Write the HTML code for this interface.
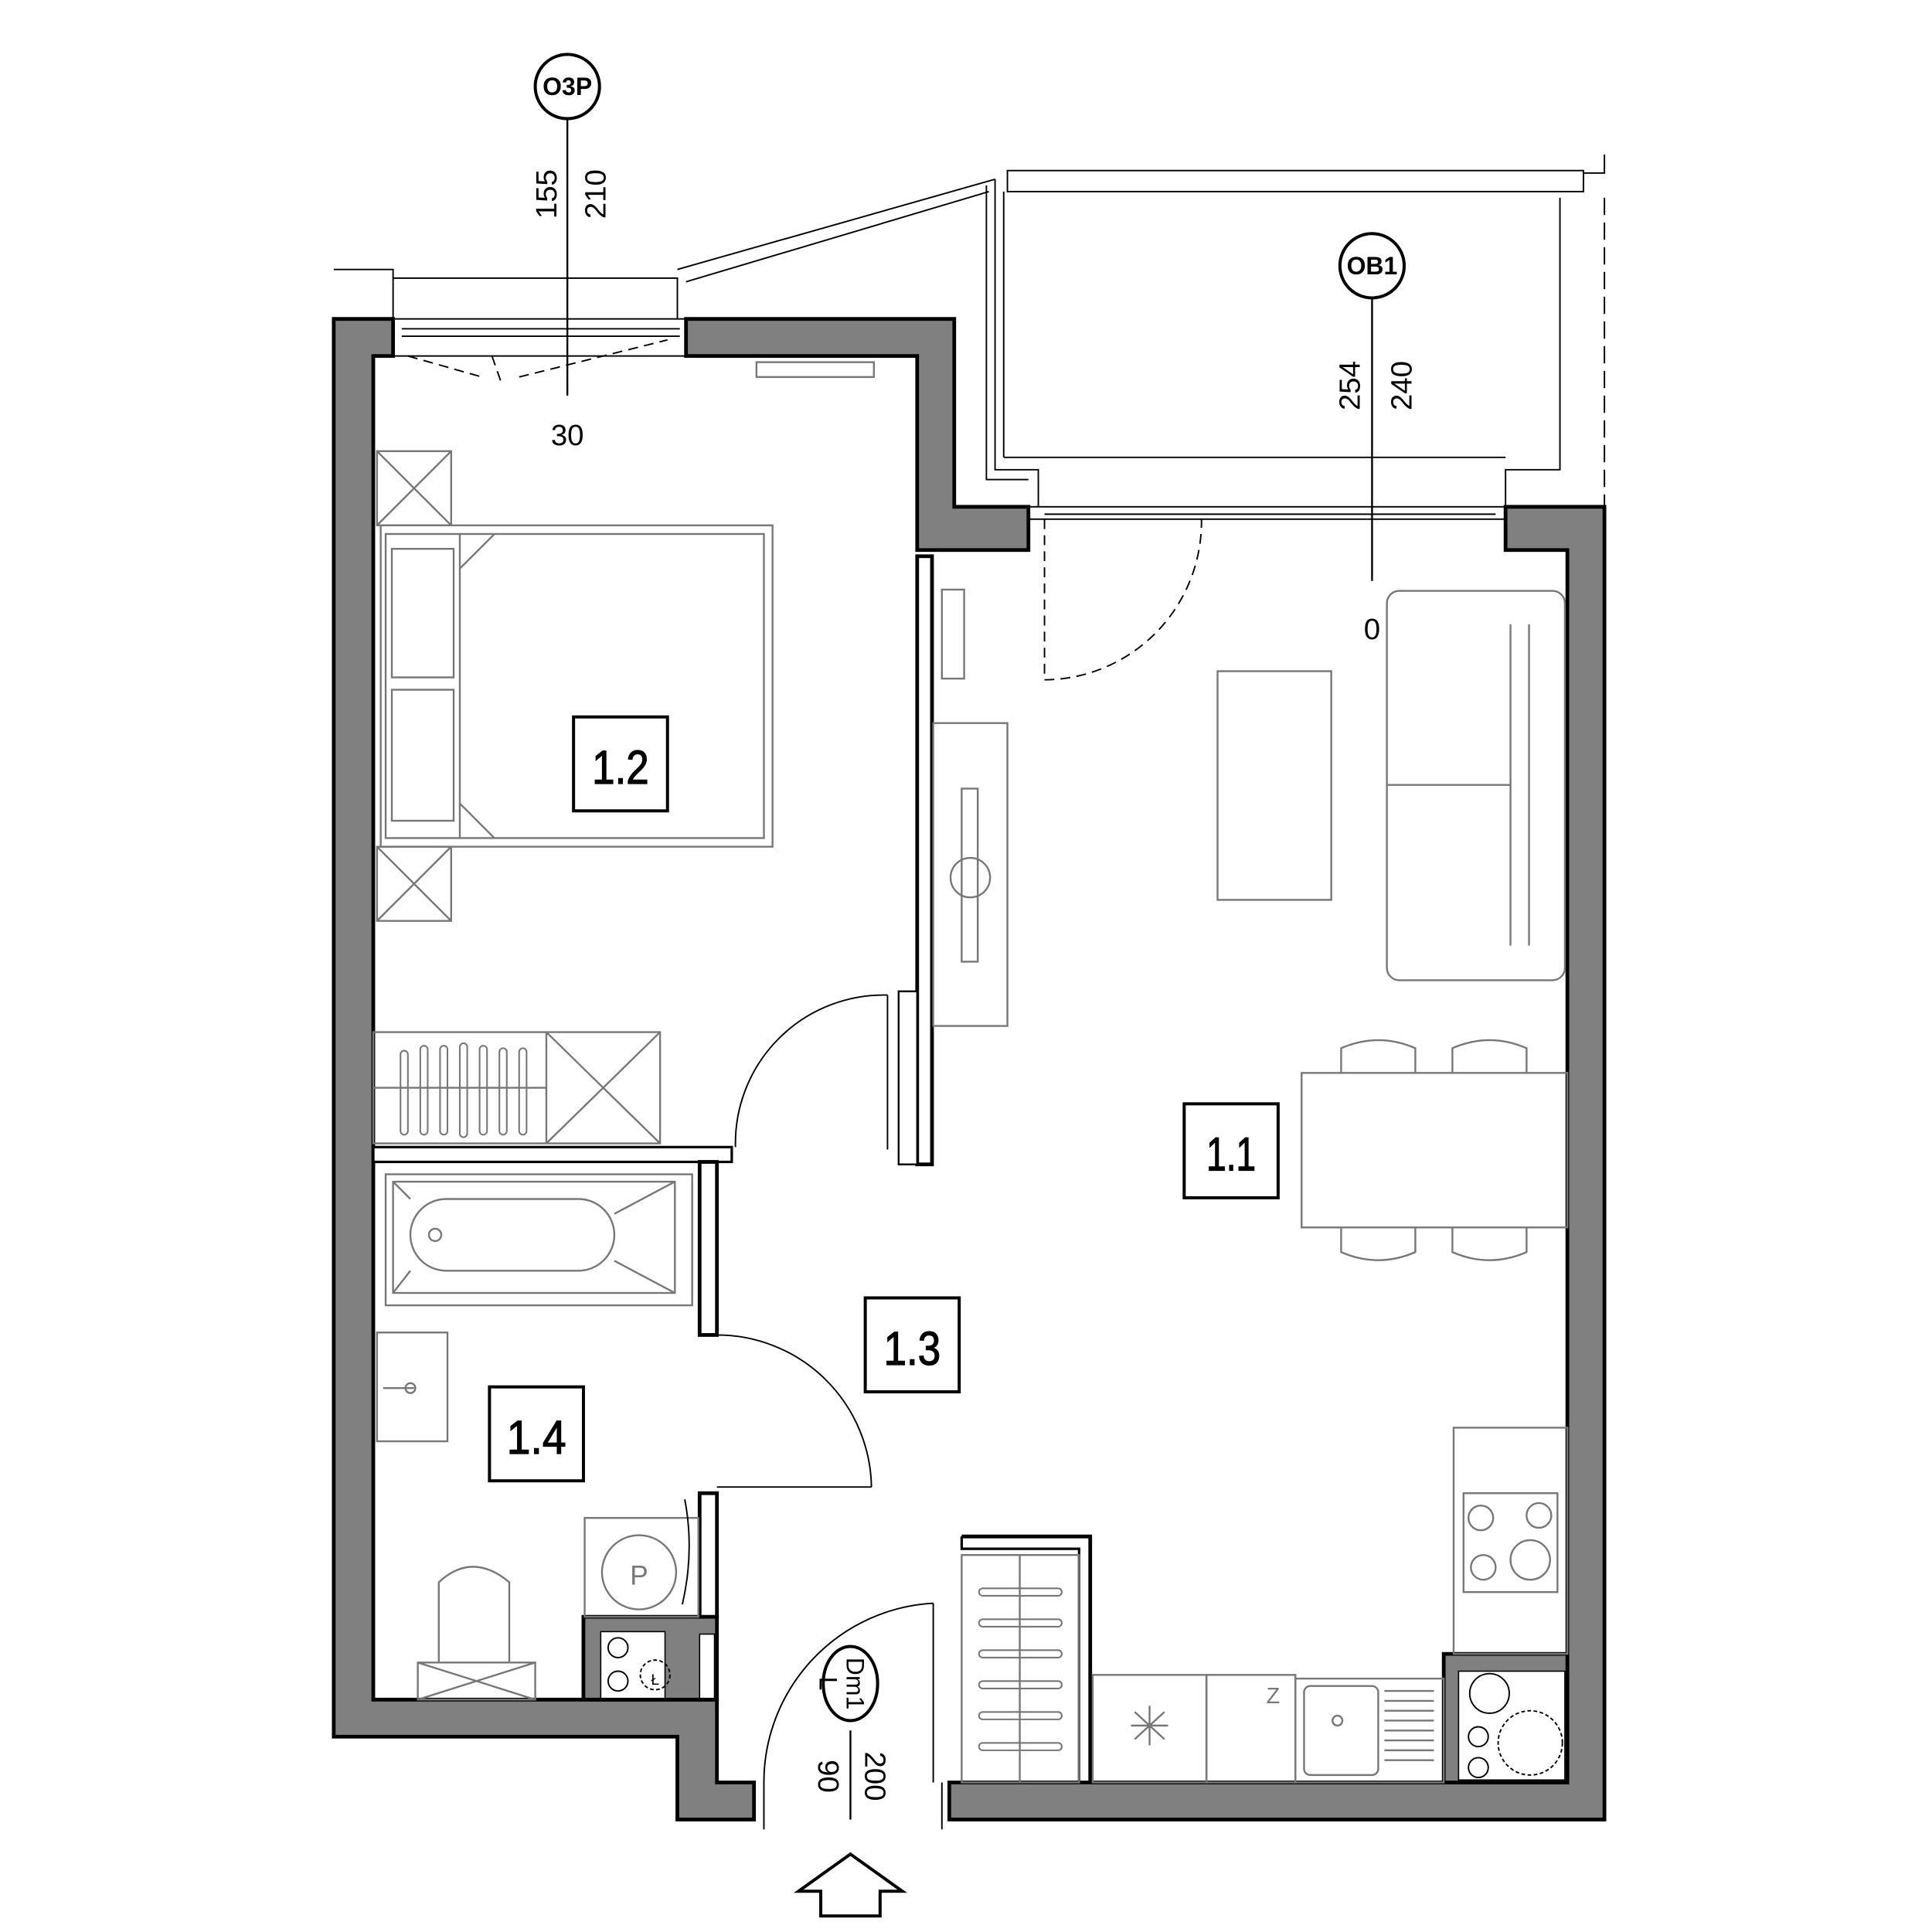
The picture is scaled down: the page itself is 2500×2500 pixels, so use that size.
<!DOCTYPE html>
<html><head><meta charset="utf-8"><style>html,body{margin:0;padding:0;background:#fff}svg{display:block}</style></head><body>
<svg width="2500" height="2500" viewBox="0 0 1563 1563" xmlns="http://www.w3.org/2000/svg" font-family="Liberation Sans Narrow, Liberation Sans, sans-serif">
<rect width="1563" height="1563" fill="#fff"/>
<g fill="#808080" stroke="#000" stroke-width="3">
<polygon points="270,258 318,258 318,288 302,288 302,1375 580,1375 580,1442 610,1442 610,1472 548,1472 548,1405 270,1405"/>
<polygon points="555,258 772,258 772,410 832,410 832,445 742,445 742,288 555,288"/>
<polygon points="1218,410 1298,410 1298,1472 768,1472 768,1442 1268,1442 1268,445 1218,445"/>
<polygon points="472,1308 580,1308 580,1375 472,1375"/>
<polygon points="1168,1338 1268,1338 1268,1442 1168,1442"/>
</g>
<g fill="#fff" stroke="#000" stroke-width="1">
<rect x="486" y="1320" width="52" height="54"/>
<rect x="566" y="1322" width="12" height="52"/>
<rect x="1180" y="1352" width="86" height="88"/>
</g>
<g fill="#fff" stroke="#000" stroke-width="3">
<rect x="742" y="450" width="12" height="492"/>
<rect x="727" y="802" width="15" height="140" stroke-width="1.5"/>
<rect x="302" y="928" width="290" height="12" stroke-width="2"/>
<rect x="566" y="940" width="14" height="140"/>
<rect x="566" y="1208" width="14" height="100"/>
<polyline points="778,1243 882,1243 882,1442" fill="none" stroke-width="3"/>
<polyline points="778,1243 778,1253 873,1253 873,1442" fill="none" stroke-width="2"/>
</g>
<g fill="none" stroke="#000" stroke-width="1.2">
<polyline points="270,218 318,218 318,258"/>
<polyline points="318,225 548,225 548,258"/>
<line x1="548" y1="218" x2="805" y2="145"/><line x1="555" y1="228" x2="800" y2="155"/>
<polyline points="805,145 805,380 840,380 840,410"/>
<polyline points="798,150 798,388 832,388"/>
<rect x="815" y="138" width="466" height="17"/>
<polyline points="1281,155 1281,140 1298,140 1298,125"/>
<line x1="812" y1="155" x2="812" y2="370"/>
<polyline points="812,370 1218,370"/>
<polyline points="1262,160 1262,380 1218,380 1218,410"/>
<line x1="1298" y1="160" x2="1298" y2="410" stroke-dasharray="14,6"/>
<rect x="318" y="258" width="237" height="30"/>
<line x1="325" y1="266" x2="550" y2="266"/><line x1="325" y1="272" x2="550" y2="272"/>
<rect x="832" y="410" width="386" height="10"/>
<line x1="845" y1="416" x2="1210" y2="416"/>
<path d="M845,420 V550 A128,128 0 0 0 972,420" stroke-dasharray="8,5"/>
<path d="M330,288 L390,305 M398,288 L405,308 M420,305 L540,275" stroke-dasharray="8,5"/>
<path d="M595,928 A120,120 0 0 1 718,805"/><line x1="718" y1="805" x2="718" y2="930"/>
<path d="M580,1080 A125,125 0 0 1 705,1203"/><line x1="580" y1="1203" x2="705" y2="1203"/>
<path d="M618,1442 A145,145 0 0 1 755,1297"/><line x1="755" y1="1297" x2="755" y2="1442"/>
<line x1="618" y1="1442" x2="618" y2="1480"/><line x1="762" y1="1442" x2="762" y2="1480"/>
</g>
<g fill="none" stroke="#777" stroke-width="1.5">
<rect x="612" y="293" width="95" height="12"/>
<rect x="305" y="365" width="60" height="60"/><path d="M305,365 L365,425 M365,365 L305,425"/>
<rect x="305" y="685" width="60" height="60"/><path d="M305,685 L365,745 M365,685 L305,745"/>
<rect x="308" y="425" width="317" height="260"/><rect x="312" y="432" width="306" height="246"/>
<line x1="372" y1="432" x2="372" y2="678"/><path d="M372,460 L400,432 M372,650 L400,678"/>
<rect x="317" y="444" width="50" height="104"/><rect x="317" y="558" width="50" height="106"/>
<rect x="302" y="835" width="232" height="90"/><line x1="442" y1="835" x2="442" y2="925"/>
<path d="M442,835 L534,925 M534,835 L442,925"/><line x1="302" y1="880" x2="442" y2="880"/>
<g stroke-width="1.3">
<rect x="324" y="850" width="6" height="68" rx="3"/><rect x="340" y="846" width="6" height="72" rx="3"/><rect x="356" y="846" width="6" height="72" rx="3"/><rect x="372" y="844" width="6" height="76" rx="3"/><rect x="388" y="846" width="6" height="72" rx="3"/><rect x="404" y="848" width="6" height="70" rx="3"/><rect x="420" y="848" width="6" height="70" rx="3"/>
</g>
<rect x="312" y="950" width="248" height="106"/><rect x="318" y="956" width="228" height="90"/>
<rect x="332" y="970" width="165" height="58" rx="29"/>
<path d="M318,956 L332,970 M546,956 L497,982 M318,1046 L332,1028 M546,1046 L497,1020"/>
<circle cx="352" cy="999" r="5"/>
<rect x="305" y="1078" width="57" height="88"/><line x1="310" y1="1123" x2="335" y2="1123"/><circle cx="332" cy="1123" r="4"/>
<rect x="473" y="1228" width="92" height="80"/><circle cx="517" cy="1272" r="30"/>
<rect x="338" y="1345" width="95" height="30"/><path d="M338,1345 L433,1375 M433,1345 L338,1375"/>
<path d="M355,1345 V1280 Q382,1255 412,1280 V1345"/>
<rect x="755" y="585" width="60" height="245"/><rect x="778" y="638" width="13" height="140"/><circle cx="785" cy="710" r="16"/>
<rect x="762" y="477" width="18" height="72"/>
<rect x="985" y="543" width="92" height="185"/>
<rect x="1122" y="478" width="144" height="315" rx="10"/><line x1="1237" y1="505" x2="1237" y2="765"/><line x1="1122" y1="635" x2="1222" y2="635"/><line x1="1222" y1="505" x2="1222" y2="765"/>
<rect x="1053" y="868" width="215" height="125"/>
<path d="M1085,868 V848 Q1115,835 1145,848 V868 M1175,868 V848 Q1205,835 1235,848 V868"/>
<path d="M1085,993 V1013 Q1115,1026 1145,1013 V993 M1175,993 V1013 Q1205,1026 1235,1013 V993"/>
<rect x="1176" y="1155" width="92" height="183"/><rect x="1184" y="1208" width="76" height="80"/>
<circle cx="1198" cy="1228" r="10"/><circle cx="1245" cy="1226" r="10"/><circle cx="1200" cy="1268" r="10"/><circle cx="1238" cy="1262" r="16"/>
<rect x="778" y="1258" width="95" height="184"/><line x1="825" y1="1258" x2="825" y2="1442"/>
<g stroke-width="1.3">
<rect x="792" y="1285" width="67" height="6" rx="3"/><rect x="792" y="1310" width="67" height="6" rx="3"/><rect x="792" y="1335" width="67" height="6" rx="3"/><rect x="792" y="1360" width="67" height="6" rx="3"/><rect x="792" y="1385" width="67" height="6" rx="3"/><rect x="792" y="1410" width="67" height="6" rx="3"/>
</g>
<rect x="884" y="1355" width="92" height="87"/><path d="M930,1380 V1412 M915,1396 H945 M918,1385 L942,1407 M942,1385 L918,1407"/>
<rect x="976" y="1355" width="72" height="87"/>
<rect x="1048" y="1358" width="120" height="84"/><rect x="1055" y="1364" width="60" height="72" rx="5"/><circle cx="1082" cy="1392" r="4"/>
<path d="M1120,1368 H1160 M1120,1376 H1160 M1120,1384 H1160 M1120,1392 H1160 M1120,1400 H1160 M1120,1408 H1160 M1120,1416 H1160 M1120,1424 H1160"/>
</g>
<g fill="none" stroke="#000" stroke-width="1.2">
<circle cx="500" cy="1333" r="8"/><circle cx="500" cy="1360" r="8"/><circle cx="530" cy="1355" r="12" stroke-dasharray="3,2"/>
<circle cx="1205" cy="1370" r="16"/><circle cx="1238" cy="1410" r="26" stroke-dasharray="3,2"/><circle cx="1196" cy="1405" r="8"/><circle cx="1196" cy="1430" r="8"/>
<path d="M554,1213 Q562,1255 552,1298"/>
</g>
<g font-size="22" fill="#777"><text x="517" y="1282" text-anchor="middle">P</text><text x="1030" y="1378" text-anchor="middle" font-size="18">Z</text><text x="530" y="1363" text-anchor="middle" font-size="12" fill="#000">Ł</text></g>
<g fill="#fff" stroke="#000" stroke-width="2.5">
<rect x="464" y="580" width="76" height="76"/><rect x="958" y="893" width="76" height="76"/>
<rect x="700" y="1050" width="76" height="76"/><rect x="396" y="1122" width="76" height="76"/>
</g>
<g font-size="38" text-anchor="middle" fill="#000" stroke="#000" stroke-width="0.8">
<text x="502" y="634" textLength="46" lengthAdjust="spacingAndGlyphs">1.2</text><text x="996" y="947" textLength="40" lengthAdjust="spacingAndGlyphs">1.1</text><text x="738" y="1104" textLength="46" lengthAdjust="spacingAndGlyphs">1.3</text><text x="434" y="1176" textLength="48" lengthAdjust="spacingAndGlyphs">1.4</text>
</g>
<g fill="#fff" stroke="#000" stroke-width="2.5">
<line x1="459" y1="96" x2="459" y2="320" stroke-width="1.5"/><circle cx="459" cy="70" r="26"/>
<line x1="1110" y1="240" x2="1110" y2="470" stroke-width="1.5"/><circle cx="1110" cy="215" r="26"/>
<line x1="688" y1="1400" x2="688" y2="1472" stroke-width="1.5"/><ellipse cx="688" cy="1362" rx="22" ry="30"/>
<polygon points="688,1500 730,1530 712,1530 712,1550 664,1550 664,1530 646,1530"/>
</g>
<g font-size="20" fill="#000" font-weight="bold" text-anchor="middle">
<text x="459" y="77">O3P</text><text x="1110" y="222">OB1</text>
</g>
<g font-size="24" fill="#000" text-anchor="middle">
<text x="459" y="360">30</text><text x="1110" y="517">0</text>
<text transform="translate(450,157) rotate(-90)">155</text><text transform="translate(490,157) rotate(-90)">210</text>
<text transform="translate(1100,312) rotate(-90)">254</text><text transform="translate(1142,312) rotate(-90)">240</text>
<text transform="translate(685,1362) rotate(90)" font-size="20">Dm1</text><text transform="translate(663,1362) rotate(90)" font-size="20">L</text>
<text transform="translate(662,1437) rotate(90)">90</text><text transform="translate(700,1437) rotate(90)">200</text>
</g>
</svg>
</body></html>
